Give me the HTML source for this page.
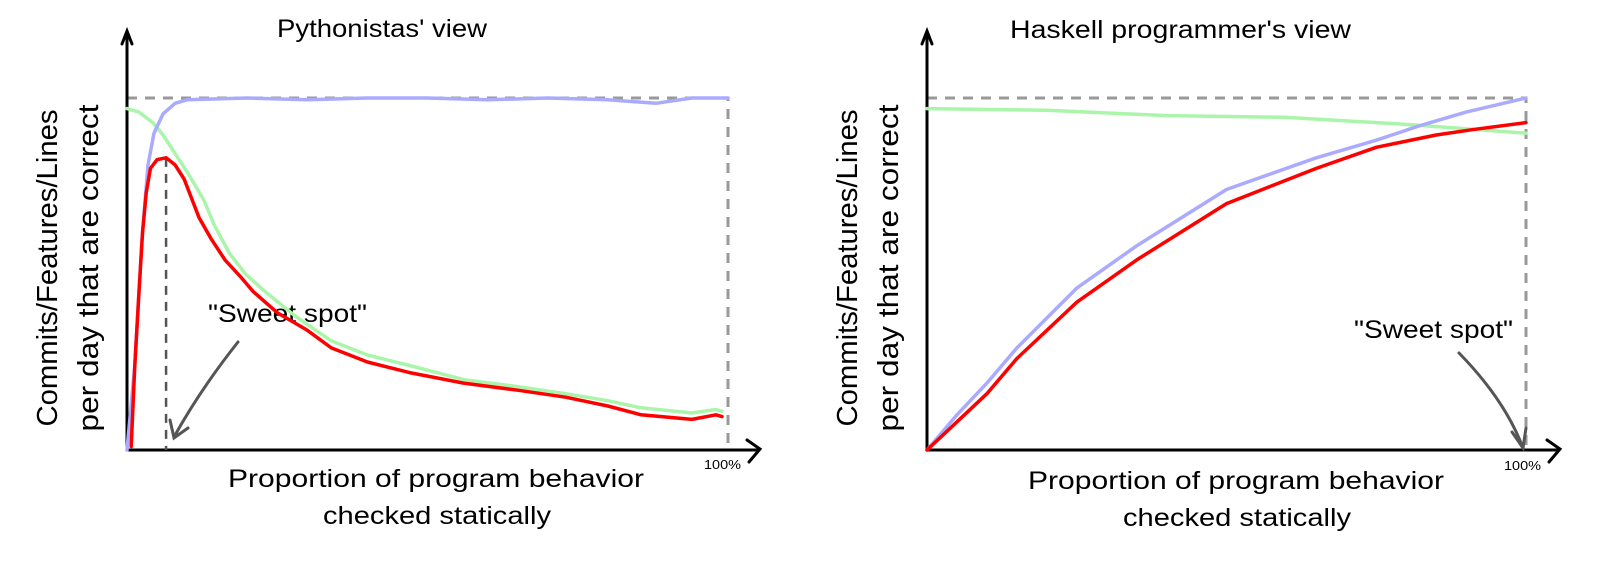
<!DOCTYPE html>
<html><head><meta charset="utf-8"><style>
html,body{margin:0;padding:0;background:#fff;}
svg{display:block;}
text{font-family:"Liberation Sans",sans-serif;fill:#000;}
</style></head><body>
<svg id="chart" width="1600" height="562" viewBox="0 0 1600 562" xmlns="http://www.w3.org/2000/svg">
<g id="left">
  <text x="277" y="37" font-size="25" textLength="210" lengthAdjust="spacingAndGlyphs">Pythonistas' view</text>
  <text transform="translate(57,268) rotate(-90)" text-anchor="middle" font-size="29" textLength="317" lengthAdjust="spacingAndGlyphs">Commits/Features/Lines</text>
  <text transform="translate(98,268) rotate(-90)" text-anchor="middle" font-size="29" textLength="327" lengthAdjust="spacingAndGlyphs">per day that are correct</text>
  <text x="436" y="487" text-anchor="middle" font-size="25" textLength="416" lengthAdjust="spacingAndGlyphs">Proportion of program behavior</text>
  <text x="437" y="524" text-anchor="middle" font-size="25" textLength="228" lengthAdjust="spacingAndGlyphs">checked statically</text>
  <text x="704" y="469" font-size="13" textLength="37" lengthAdjust="spacingAndGlyphs">100%</text>
  <text x="208" y="322" font-size="25" textLength="159" lengthAdjust="spacingAndGlyphs">"Sweet spot"</text>
</g>
<g id="right">
  <text x="1010" y="38" font-size="25" textLength="341" lengthAdjust="spacingAndGlyphs">Haskell programmer's view</text>
  <text transform="translate(857,268) rotate(-90)" text-anchor="middle" font-size="29" textLength="317" lengthAdjust="spacingAndGlyphs">Commits/Features/Lines</text>
  <text transform="translate(898,268) rotate(-90)" text-anchor="middle" font-size="29" textLength="327" lengthAdjust="spacingAndGlyphs">per day that are correct</text>
  <text x="1236" y="489" text-anchor="middle" font-size="25" textLength="416" lengthAdjust="spacingAndGlyphs">Proportion of program behavior</text>
  <text x="1237" y="526" text-anchor="middle" font-size="25" textLength="228" lengthAdjust="spacingAndGlyphs">checked statically</text>
  <text x="1504" y="470" font-size="13" textLength="37" lengthAdjust="spacingAndGlyphs">100%</text>
  <text x="1354" y="338" font-size="25" textLength="159" lengthAdjust="spacingAndGlyphs">"Sweet spot"</text>
</g>
</svg>
<script>
// Left panel (Pythonistas) data
const leftBlueX  = [0, 0.013, 0.025, 0.035, 0.045, 0.06, 0.08, 0.10, 0.2, 0.3, 0.4, 0.5, 0.6, 0.7, 0.8, 0.88, 0.94, 1.0];
const leftBlueY  = [0, 0.24, 0.6, 0.81, 0.9, 0.955, 0.985, 0.995, 1.0, 0.995, 1.0, 1.0, 0.995, 1.0, 0.995, 0.985, 1.0, 1.0];
const leftGreenX = [0, 0.02, 0.043, 0.06, 0.077, 0.1, 0.128, 0.145, 0.17, 0.197, 0.23, 0.28, 0.34, 0.4, 0.47, 0.56, 0.65, 0.73, 0.8, 0.855, 0.94, 0.98, 0.99];
const leftGreenY = [0.97, 0.96, 0.93, 0.895, 0.85, 0.79, 0.71, 0.64, 0.56, 0.50, 0.45, 0.38, 0.31, 0.27, 0.24, 0.20, 0.18, 0.16, 0.14, 0.12, 0.105, 0.115, 0.11];
const leftRedX   = [0.007, 0.013, 0.02, 0.026, 0.032, 0.039, 0.05, 0.065, 0.08, 0.095, 0.12, 0.14, 0.163, 0.19, 0.21, 0.25, 0.30, 0.34, 0.4, 0.47, 0.56, 0.65, 0.73, 0.8, 0.855, 0.94, 0.98, 0.99];
const leftRedY   = [0.01, 0.24, 0.45, 0.62, 0.73, 0.80, 0.825, 0.83, 0.81, 0.77, 0.66, 0.60, 0.54, 0.49, 0.45, 0.39, 0.34, 0.29, 0.25, 0.22, 0.19, 0.17, 0.15, 0.125, 0.10, 0.087, 0.10, 0.095];
const leftSweetSpotX = 0.065;
const leftSweetSpotY = 0.83;
// Right panel (Haskell) data
const rightBlueX  = [0, 0.05, 0.1, 0.15, 0.25, 0.35, 0.5, 0.65, 0.75, 0.82, 0.9, 1.0];
const rightBlueY  = [0, 0.10, 0.19, 0.29, 0.46, 0.58, 0.74, 0.83, 0.88, 0.92, 0.96, 1.0];
const rightGreenX = [0, 0.2, 0.4, 0.6, 0.8, 1.0];
const rightGreenY = [0.97, 0.965, 0.95, 0.945, 0.925, 0.90];
const rightRedX   = [0, 0.05, 0.1, 0.15, 0.25, 0.35, 0.5, 0.65, 0.75, 0.85, 0.91, 1.0];
const rightRedY   = [0, 0.08, 0.16, 0.26, 0.42, 0.54, 0.70, 0.80, 0.86, 0.895, 0.91, 0.93];

const NS = "http://www.w3.org/2000/svg";
function mkScale(x0, x1, y0, y1){ return {x: v => x0 + v*(x1-x0), y: v => y0 + v*(y1-y0)}; }
const L = mkScale(127, 728, 450, 98);
const R = mkScale(927, 1526, 450, 98);

function line(parent, sc, xs, ys, color, w, name){
  let d = '';
  xs.forEach((x,i)=>{ d += (i? ' L':'M') + sc.x(x).toFixed(1) + ' ' + sc.y(ys[i]).toFixed(1); });
  const p = document.createElementNS(NS,'path');
  p.setAttribute('d', d);
  p.setAttribute('fill','none');
  p.setAttribute('stroke', color);
  p.setAttribute('stroke-width', w);
  p.setAttribute('stroke-linejoin','round');
  p.setAttribute('stroke-linecap','round');
  
  
  parent.appendChild(p);
  return p;
}
function raw(parent, d, attrs, name){
  const p = document.createElementNS(NS,'path');
  p.setAttribute('d', d);
  p.setAttribute('fill','none');
  for (const k in attrs) p.setAttribute(k, attrs[k]);
  
  
  parent.appendChild(p);
}
function panel(gid, sc, ox, prefix){
  const g = document.getElementById(gid);
  raw(g, `M${sc.x(0)} ${sc.y(1)} L${sc.x(1)} ${sc.y(1)} L${sc.x(1)} ${sc.y(0)}`, {stroke:'#999', 'stroke-width':3, 'stroke-dasharray':'10 8'}, prefix+'-limit-box');
  raw(g, `M${ox} 450 L${ox} 32 M${ox-5} 44 L${ox} 31 L${ox+5} 44`, {stroke:'#000','stroke-width':3,'stroke-linecap':'round'}, prefix+'-y-axis');
  raw(g, `M${ox} 450 L${ox+632} 450 M${ox+620} 440 L${ox+633} 449 L${ox+622} 462`, {stroke:'#000','stroke-width':3,'stroke-linecap':'round'}, prefix+'-x-axis');
}
panel('left', L, 127, 'left');
panel('right', R, 927, 'right');
const gl = document.getElementById('left'), gr = document.getElementById('right');
raw(gl, `M${L.x(leftSweetSpotX)} ${L.y(leftSweetSpotY)} L${L.x(leftSweetSpotX)} 450`, {stroke:'#555','stroke-width':2.5,'stroke-dasharray':'9 7'}, 'left-sweet-spot-marker');
line(gl, L, leftGreenX, leftGreenY, '#aaf5aa', 3.5, 'left-green-line');
line(gl, L, leftBlueX, leftBlueY, '#aaaaff', 3.5, 'left-blue-line');
line(gl, L, leftRedX, leftRedY, '#ff0000', 3.5, 'left-red-line');
line(gr, R, rightGreenX, rightGreenY, '#aaf5aa', 3.5, 'right-green-line');
line(gr, R, rightBlueX, rightBlueY, '#aaaaff', 3.5, 'right-blue-line');
line(gr, R, rightRedX, rightRedY, '#ff0000', 3.5, 'right-red-line');
raw(gl, 'M238 342 Q200 390 174 437 M170 420 L174 438 L188 428', {stroke:'#555','stroke-width':3,'stroke-linecap':'round'}, 'left-sweet-spot-arrow');
raw(gr, 'M1459 353 Q1505 400 1523 448 M1512 432 L1523 448 L1526 428', {stroke:'#555','stroke-width':3,'stroke-linecap':'round'}, 'right-sweet-spot-arrow');
</script>
</body></html>
